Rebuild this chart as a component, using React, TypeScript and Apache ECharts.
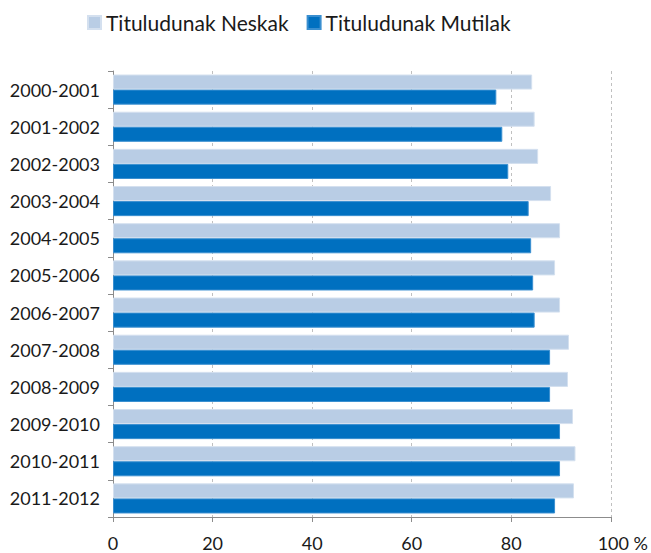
import React, { useEffect, useRef } from "react";
import * as echarts from "echarts";

const categories = [
  "2000-2001", "2001-2002", "2002-2003", "2003-2004", "2004-2005", "2005-2006",
  "2006-2007", "2007-2008", "2008-2009", "2009-2010", "2010-2011", "2011-2012",
];
const neskak = [84.2, 84.7, 85.4, 88.0, 89.8, 88.8, 89.8, 91.6, 91.4, 92.4, 92.9, 92.6];
const mutilak = [77.0, 78.2, 79.4, 83.5, 84.0, 84.4, 84.7, 87.8, 87.8, 89.8, 89.8, 88.8];
const seriesNames = ["Tituludunak Neskak", "Tituludunak Mutilak"];

const FONT = "Lato, 'Open Sans', sans-serif";

export default function App() {
  const ref = useRef<HTMLDivElement>(null);
  useEffect(() => {
    if (!ref.current) return;
    const chart = echarts.init(ref.current, undefined, { renderer: "svg" });
    chart.setOption({
      animation: false,
      textStyle: { fontFamily: FONT },
      legend: {
        top: 7,
        left: 82,
        itemWidth: 13,
        itemHeight: 13,
        itemGap: 18,
        icon: "rect",
        textStyle: { fontSize: 21, color: "#1a1a1a", fontFamily: FONT },
        data: seriesNames,
      },
      grid: { left: 113, right: 40, top: 71, bottom: 36, containLabel: false },
      xAxis: {
        type: "value",
        min: 0,
        max: 100,
        interval: 20,
        axisLine: { show: true, lineStyle: { color: "#8c8c8c", width: 1 } },
        axisTick: { show: true, length: 5, lineStyle: { color: "#8c8c8c" } },
        splitLine: { show: true, lineStyle: { color: "#c0c0c0", type: [3, 3] } },
        axisLabel: {
          fontSize: 18,
          color: "#1a1a1a",
          margin: 17,
          fontFamily: FONT,
          formatter: (v: number) => (v === 100 ? "{s|}100 %" : String(v)),
          rich: { s: { width: 24 } },
        },
      },
      yAxis: {
        type: "category",
        inverse: true,
        data: categories,
        axisLine: { show: true, lineStyle: { color: "#8c8c8c", width: 1 } },
        axisTick: { show: true, length: 5, lineStyle: { color: "#8c8c8c" } },
        axisLabel: { fontSize: 18, color: "#1a1a1a", margin: 13, fontFamily: FONT },
      },
      series: [
        {
          name: seriesNames[0],
          type: "bar",
          data: neskak,
          barGap: "0%",
          barCategoryGap: "19%",
          itemStyle: { color: "#b9cde5", borderColor: "#d4e0ef", borderWidth: 1 },
        },
        {
          name: seriesNames[1],
          type: "bar",
          data: mutilak,
          barGap: "0%",
          barCategoryGap: "19%",
          itemStyle: { color: "#0070c0", borderColor: "#3a8fd0", borderWidth: 1 },
        },
      ],
    });
    return () => chart.dispose();
  }, []);
  return <div ref={ref} style={{ width: 651, height: 553, position: "absolute", left: 0, top: 0 }} />;
}
